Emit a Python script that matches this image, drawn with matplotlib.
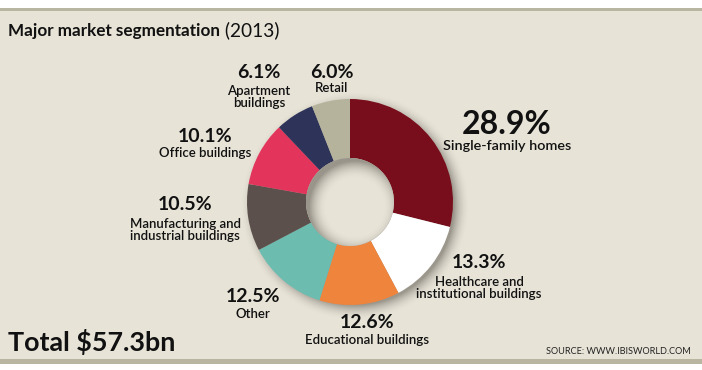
import numpy as np
import matplotlib
matplotlib.use("Agg")
import matplotlib.pyplot as plt
from matplotlib.patches import Rectangle, Circle

# ---- data ----
categories = ["Single-family homes", "Healthcare and\ninstitutional buildings",
              "Educational buildings", "Other",
              "Manufacturing and\nindustrial buildings", "Office buildings",
              "Apartment\nbuildings", "Retail"]
shares = [28.9, 13.3, 12.6, 12.5, 10.5, 10.1, 6.1, 6.0]
title_main = "Major market segmentation"
title_year = " (2013)"
total_label = "Total $57.3bn"
source_label = "SOURCE: WWW.IBISWORLD.COM"

# ---- style ----
colors = ["#780d1b", "#ffffff", "#ef843c", "#6cbcb0", "#5b504c",
          "#e3355c", "#2d3359", "#b6b39d"]
BG = "#e7e3d7"
BAND = "#b8b5a1"
W, H = 702, 370
# label positions in pixel coords (x, pct_y, name_y)
label_pos = [(507, 124, 146), (479, 263, 288), (367, 323, 340), (253, 297, 314),
             (185, 205, 230), (205, 136, 153), (259, 73, 97), (332, 73, 88)]
pct_sizes = [23, 14, 14, 14, 14, 14, 14, 14]
name_sizes = [10.4, 9.5, 9.5, 9.5, 9.5, 9.5, 9.5, 9.5]

plt.rcParams['font.family'] = ['Lato', 'DejaVu Sans']

fig = plt.figure(figsize=(W / 100, H / 100), dpi=100)
fig.patch.set_facecolor("white")
ax = fig.add_axes([0, 0, 1, 1])
ax.set_xlim(0, W)
ax.set_ylim(0, H)
ax.axis("off")

def Y(y):
    return H - y

# background panel and bands
ax.add_patch(Rectangle((0, Y(359)), W, 359 - 8, facecolor=BG, edgecolor="none", zorder=0))
ax.add_patch(Rectangle((0, Y(11)), W, 3, facecolor=BAND, edgecolor="none", zorder=0.5))
ax.add_patch(Rectangle((0, Y(364)), W, 5, facecolor=BAND, edgecolor="none", zorder=0.5))

cx, cy = 350, Y(202)
R_out, R_in = 103, 44

# drop shadow (outer)
xs = np.arange(0, W) + 0.5
ys = np.arange(0, H) + 0.5
XX, YY = np.meshgrid(xs, ys)
d = np.hypot(XX - (cx + 5), YY - (cy - 4))
t = np.clip((d - (R_out - 4)) / 16.0, 0, 1)
alpha = 0.45 * (1 - t) ** 2
img = np.zeros((H, W, 4))
img[..., 0] = 0.25
img[..., 1] = 0.23
img[..., 2] = 0.2
img[..., 3] = alpha
ax.imshow(img, extent=(0, W, 0, H), origin="lower", zorder=1, aspect="auto",
          interpolation="bilinear")

ax.pie(shares, colors=colors, startangle=90, counterclock=False,
       center=(cx, cy), radius=R_out, frame=True,
       wedgeprops=dict(width=R_out - R_in, linewidth=0, zorder=2))
ax.set_xlim(0, W)
ax.set_ylim(0, H)
ax.axis("off")
for p in ax.patches[-len(shares):]:
    p.set_zorder(2)

# hole with inner shadow
hole = Circle((cx, cy), R_in, facecolor=BG, edgecolor="none", zorder=3)
ax.add_patch(hole)
d2 = np.hypot(XX - (cx + 5), YY - (cy - 5))
t2 = np.clip((d2 - (R_in - 16)) / 18.0, 0, 1)
img2 = np.zeros((H, W, 4))
img2[..., 0] = 0.3
img2[..., 1] = 0.28
img2[..., 2] = 0.24
img2[..., 3] = 0.5 * t2 ** 2
im2 = ax.imshow(img2, extent=(0, W, 0, H), origin="lower", zorder=4, aspect="auto",
                interpolation="bilinear")
clipc = Circle((cx, cy), R_in, transform=ax.transData)
im2.set_clip_path(clipc)

# labels
for name, val, (lx, py, ny), ps, ns in zip(categories, shares, label_pos,
                                           pct_sizes, name_sizes):
    ax.text(lx, Y(py), f"{val:.1f}%", ha="center", va="center", fontsize=ps,
            fontweight="bold", color="#111111", zorder=5)
    ax.text(lx, Y(ny), name, ha="center", va="center", fontsize=ns,
            fontweight="semibold", color="#111111", linespacing=1.0, zorder=5)

# title
t1 = ax.text(8, Y(31), title_main, ha="left", va="center", fontsize=12.3,
             fontweight="bold", color="#111111", zorder=5)
ax.annotate(title_year, xy=(1, 0), xycoords=t1, ha="left", va="bottom",
            fontsize=13.8, color="#111111", zorder=5)

ax.text(8, Y(351), total_label, ha="left", va="baseline", fontsize=19.4,
        fontweight="bold", color="#111111", zorder=5)
ax.text(691, Y(354), source_label, ha="right", va="baseline", fontsize=6.6,
        color="#222222", zorder=5)

fig.savefig("out.png", dpi=100, facecolor="white")
